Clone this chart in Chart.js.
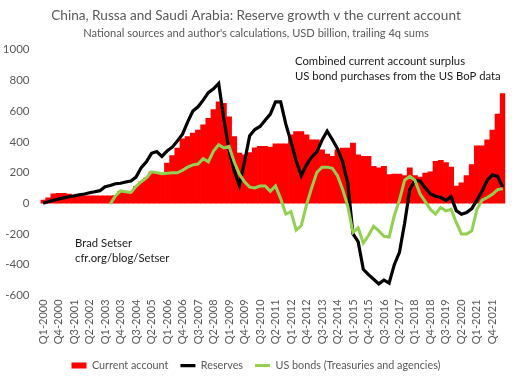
<!DOCTYPE html>
<html>
<head>
<meta charset="utf-8">
<script src="https://cdn.jsdelivr.net/npm/chart.js@4/dist/chart.umd.min.js"></script>
<style>
  html, body { margin: 0; padding: 0; background: #fff; }
  #wrap { width: 520px; height: 377px; position: relative; }
</style>
</head>
<body>
<div id="wrap"><canvas id="chart"></canvas></div>
<script>
// quarters Q1-2000 .. Q2-2022
const quarters = [];
for (let y = 2000; y <= 2022; y++) {
  for (let q = 1; q <= 4; q++) {
    if (y === 2022 && q > 2) break;
    quarters.push("Q" + q + "-" + y);
  }
}

const currentAccount = [
  20, 35, 62, 65, 64, 60, 48, 48, 48, 48,
  48, 48, 48, 48, 50, 80, 75, 70, 110, 140,
  165, 205, 200, 192, 262, 310, 359, 420, 434, 456,
  477, 510, 553, 610, 660, 650, 563, 434, 327, 316,
  330, 360, 370, 370, 365, 387, 387, 387, 445, 466,
  466, 445, 413, 413, 348, 320, 305, 348, 359, 359,
  391, 316, 305, 305, 241, 230, 241, 187, 190, 190,
  180, 230, 180, 170, 197, 205, 273, 280, 265, 235,
  112, 133, 180, 252, 374, 374, 413, 477, 580, 714
];

const reserves = [
  0, 10, 20, 28, 35, 42, 48, 55, 60, 68,
  75, 82, 108, 115, 127, 130, 138, 145, 170, 232,
  270, 325, 337, 305, 340, 365, 405, 450, 530, 600,
  628, 671, 720, 745, 780, 549, 347, 213, 116, 270,
  440, 480, 500, 540, 580, 660, 660, 515, 400, 275,
  180, 250, 300, 335, 410, 470, 415, 355, 270, 130,
  -200, -250, -430, -465, -495, -525, -500, -520, -400, -320,
  -130, 90, 150, 145, 100, 60, 45, 37, 18, 43,
  -48, -71, -60, -35, 20, 80, 150, 185, 175, 105
];

const usBonds = [
  null, null, null, null, null, null, null, null, null, null,
  null, null, null, -5, 47, 80, 75, 70, 110, 140,
  165, 205, 200, 192, 195, 198, 198, 215, 235, 250,
  255, 290, 270, 340, 381, 360, 370, 270, 190, 140,
  105, 100, 112, 112, 78, 112, 30, -70, -55, -175,
  -145, -10, 100, 200, 235, 235, 228, 180, 90, -20,
  -190, -160, -260, -210, -150, -180, -215, -220, -80, 20,
  150, 175, 150, 60, 10, -40, -70, -28, -50, -40,
  -125, -200, -200, -180, -40, 20, 37, 58, 88, 95
];

const yTicks = { min: -600, max: 1000, step: 200 };

const FONT = "Lato, 'Open Sans', sans-serif";
const GREY = "#595959";

// free text notes on the plot
const notes = {
  id: "notes",
  afterDraw(chart) {
    const ctx = chart.ctx;
    ctx.save();
    ctx.font = "11.3px " + FONT;
    ctx.fillStyle = "#1a1a1a";
    ctx.textBaseline = "middle";
    ctx.textAlign = "left";
    ctx.fillText("Combined current account surplus", 295, 61);
    ctx.fillText("US bond purchases from the US BoP data", 295, 76);
    ctx.fillText("Brad Setser", 75, 243);
    ctx.fillText("cfr.org/blog/Setser", 75, 258);
    ctx.restore();
  }
};

new Chart(document.getElementById("chart"), {
  type: "bar",
  data: {
    labels: quarters,
    datasets: [
      {
        type: "bar",
        label: "Current account",
        data: currentAccount,
        backgroundColor: "#ff0000",
        borderWidth: 0,
        barPercentage: 1,
        categoryPercentage: 1,
        pointStyle: "rect",
        order: 3
      },
      {
        type: "line",
        label: "Reserves",
        data: reserves,
        borderColor: "#000000",
        backgroundColor: "#000000",
        borderWidth: 3.2,
        pointRadius: 0,
        tension: 0,
        pointStyle: "line",
        order: 2
      },
      {
        type: "line",
        label: "US bonds (Treasuries and agencies)",
        data: usBonds,
        borderColor: "#92d050",
        backgroundColor: "#92d050",
        borderWidth: 3,
        pointRadius: 0,
        tension: 0,
        pointStyle: "line",
        order: 1
      }
    ]
  },
  options: {
    responsive: true,
    maintainAspectRatio: false,
    animation: false,
    layout: { padding: { left: 0, right: 8, top: 4, bottom: -4 } },
    plugins: {
      title: {
        display: true,
        text: "China, Russa and Saudi Arabia: Reserve growth v the current account",
        color: GREY,
        font: { family: FONT, size: 13.6, weight: "normal" },
        padding: { top: 3, bottom: 3 }
      },
      subtitle: {
        display: true,
        text: "National sources and author's calculations, USD billion, trailing 4q sums",
        color: GREY,
        font: { family: FONT, size: 11.1, weight: "normal" },
        padding: { top: 0, bottom: 10 }
      },
      legend: {
        position: "bottom",
        labels: {
          usePointStyle: true,
          pointStyleWidth: 15,
          boxHeight: 6,
          padding: 12,
          color: GREY,
          font: { family: FONT, size: 10.8 },
          sort: (a, b) => a.datasetIndex - b.datasetIndex
        }
      },
      tooltip: { enabled: false }
    },
    scales: {
      x: {
        grid: { display: false, drawTicks: false },
        border: { display: false },
        ticks: {
          autoSkip: false,
          maxRotation: 90,
          minRotation: 90,
          padding: 4,
          color: GREY,
          font: { family: FONT, size: 11 },
          callback: function (v, i) { return i % 3 === 0 ? quarters[i] : ""; }
        }
      },
      y: {
        min: yTicks.min,
        max: yTicks.max,
        grid: { display: false },
        border: { display: false },
        ticks: {
          stepSize: yTicks.step,
          color: GREY,
          font: { family: FONT, size: 11.5 },
          callback: (v) => String(v)
        },
        afterFit: (s) => { s.width = 40.5; }
      }
    }
  },
  plugins: [notes]
});
</script>
</body>
</html>
